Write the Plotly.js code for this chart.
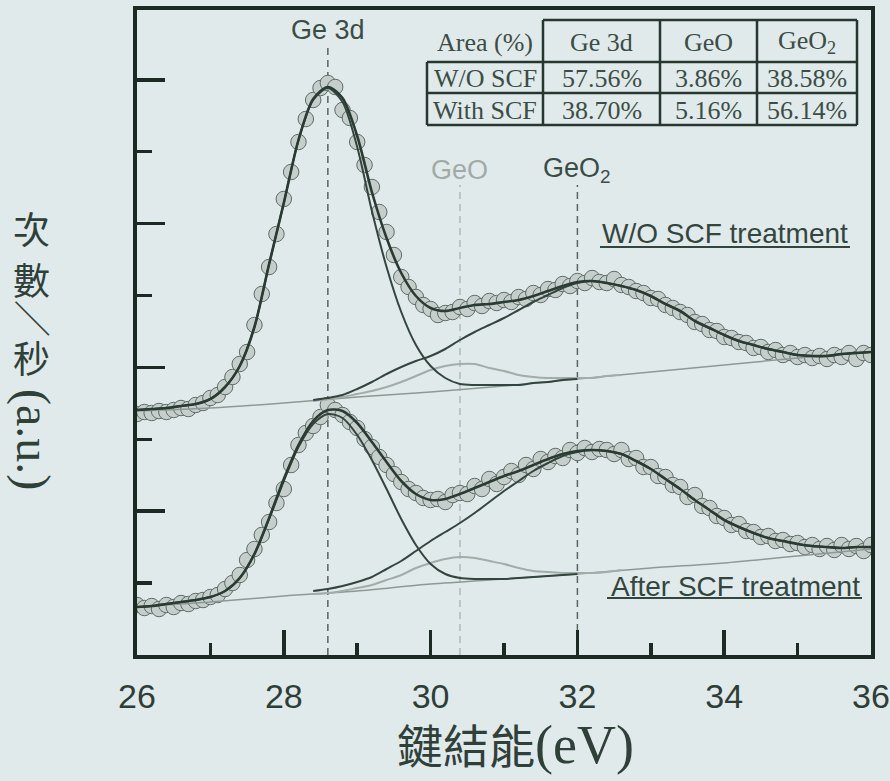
<!DOCTYPE html>
<html>
<head>
<meta charset="utf-8">
<script src="https://cdn.plot.ly/plotly-3.0.1.min.js"></script>
<style>html,body{margin:0;padding:0;background:#e0eaeb;}</style>
</head>
<body>
<div id="chart" style="width:890px;height:781px;"></div>
<script>
// ---------- DATA (binding energy in eV, intensity in arbitrary units) ----------
const dataX = [26.0,26.1,26.2,26.3,26.4,26.5,26.6,26.7,26.8,26.9,
  27.0,27.1,27.2,27.3,27.4,27.5,27.6,27.7,27.8,27.9,
  28.0,28.1,28.2,28.3,28.4,28.5,28.6,28.7,28.8,28.9,
  29.0,29.1,29.2,29.3,29.4,29.5,29.6,29.7,29.8,29.9,
  30.0,30.1,30.2,30.3,30.4,30.5,30.6,30.7,30.8,30.9,
  31.0,31.1,31.2,31.3,31.4,31.5,31.6,31.7,31.8,31.9,
  32.0,32.1,32.2,32.3,32.4,32.5,32.6,32.7,32.8,32.9,
  33.0,33.1,33.2,33.3,33.4,33.5,33.6,33.7,33.8,33.9,
  34.0,34.1,34.2,34.3,34.4,34.5,34.6,34.7,34.8,34.9,
  35.0,35.1,35.2,35.3,35.4,35.5,35.6,35.7,35.8,35.9,
  36.0];

const woData = [241,243,242,244,243,245,247,246,250,252,
  257,260,268,278,291,303,330,361,388,421,
  456,483,513,536,555,567,572,568,545,537,
  513,490,468,443,423,400,378,368,358,350,
  346,340,342,343,348,346,352,349,354,352,
  355,353,358,356,362,360,366,365,371,369,
  374,372,377,373,372,376,370,368,364,362,
  357,356,350,347,343,340,333,331,325,324,
  318,317,313,312,307,308,303,305,300,302,
  298,300,297,299,296,300,298,302,296,302,
  300];

const scfData = [50,47,49,46,50,48,52,51,54,55,
  58,60,66,72,80,95,106,120,133,152,
  166,190,210,222,229,238,250,245,240,233,
  227,216,208,198,190,181,173,166,162,157,
  155,156,153,160,162,161,169,166,176,171,
  178,184,180,190,186,196,193,199,197,205,
  202,207,203,206,205,201,205,196,197,188,
  188,179,178,170,168,158,160,149,147,139,
  137,130,131,124,123,118,119,114,115,111,
  112,108,110,106,109,105,110,106,109,104,
  110];

const fitX = [26.0,26.2,26.4,26.6,26.8,27.0,27.2,27.4,27.6,27.8,
  28.0,28.2,28.4,28.6,28.8,29.0,29.2,29.4,29.6,29.8,
  30.0,30.2,30.4,30.6,30.8,31.0,31.2,31.4,31.6,31.8,
  32.0,32.2,32.4,32.6,32.8,33.0,33.2,33.4,33.6,33.8,
  34.0,34.2,34.4,34.6,34.8,35.0,35.2,35.4,35.6,35.8,
  36.0];
const woFit = [245,246,247,249,251,256,268,289,328,391,
  452,515,556,568,557,519,463,417,382,359,
  347,344,347,350,351,353,355,359,364,369,
  373,374,372,369,365,359,351,344,334,327,
  320,314,310,306,303,300,299,299,301,302,
  303];
const scfFit = [48,49,51,53,55,58,64,77,101,137,
  176,210,234,245,244,232,213,193,174,161,
  155,156,161,167,173,179,184,190,196,201,
  204,205,204,201,194,186,176,166,155,145,
  135,128,122,117,114,111,109,108,107,108,
  108];

// background lines
const baseX = [26,27,28,29,30,31,32,33,34,35,36];
const woBase = [244,247,252,258,263,269,276,283,290,297,303];
const scfBase = [48,53,59,64,71,76,81,87,92,99,106];

// Ge 3d component
const ge3dX = [26.0,26.2,26.4,26.6,26.8,27.0,27.2,27.4,27.6,27.8,
  28.0,28.2,28.4,28.6,28.8,29.0,29.2,29.4,29.6,29.8,
  30.0,30.2,30.4,30.6,30.8,31.0,31.2,31.4,31.6,31.8,32.0];
const woGe3d = [245,246,247,249,251,256,268,289,328,391,
  452,515,555,567,553,508,444,388,343,310,
  289,277,271,270,270,270,270,272,273,275,276];
const scfGe3d = [48,49,51,53,55,58,64,77,101,136,
  174,208,231,241,237,220,195,166,136,110,
  91,81,77,76,76,76,77,78,79,80,81];

// GeO component
const geoX = [28.4,28.6,28.8,29.0,29.2,29.4,29.6,29.8,30.0,30.2,
  30.4,30.6,30.8,31.0,31.2,31.4,31.6,31.8,32.0,32.2,32.4,32.6];
const woGeO = [254,256,258,261,264,268,273,279,285,289,
  291,291,287,284,280,278,277,277,277,277,279,280];
const scfGeO = [61,62,64,67,70,75,80,87,92,96,
  98,97,94,91,87,84,83,82,82,82,83,85];

// GeO2 component
const geo2X = [28.4,28.6,28.8,29.0,29.2,29.4,29.6,29.8,
  30.0,30.2,30.4,30.6,30.8,31.0,31.2,31.4,31.6,31.8,
  32.0,32.2,32.4,32.6,32.8,33.0,33.2,33.4,33.6,33.8,
  34.0,34.2,34.4,34.6,34.8,35.0,35.2,35.4,35.6,35.8,36.0];
const woGeO2 = [255,257,260,266,273,281,288,294,
  299,306,315,323,330,337,345,353,360,367,
  372,374,372,369,365,359,351,344,334,327,
  320,314,310,306,303,300,299,299,301,302,303];
const scfGeO2 = [64,66,69,73,78,86,94,104,
  114,123,132,142,153,164,174,184,192,199,
  203,205,204,201,194,186,176,166,155,145,
  135,128,122,117,114,111,109,108,107,108,108];

// peak reference positions and labels
const peakNames = ['Ge 3d', 'GeO', 'GeO<sub>2</sub>'];
const peakPos = [28.6, 30.4, 32.0];

// area table
const tableHeader = ['Area (%)', 'Ge 3d', 'GeO', 'GeO<sub>2</sub>'];
const tableRowWO = ['W/O SCF', '57.56%', '3.86%', '38.58%'];
const tableRowSCF = ['With SCF', '38.70%', '5.16%', '56.14%'];

const xTickVals = [26, 28, 30, 32, 34, 36];

// ---------- STYLE ----------
const BG = '#e0eaeb';
const FRAME = '#1b2b24';
const DARK = '#33453e';
const LIGHT = '#a2aca9';
const BASEC = '#8e9995';

// pixel helpers for layout placement (plot area: x 137..871, y 10..655)
const PL = 137, PR = 871, PT = 10, PB = 655;
const px = v => (v - PL) / (PR - PL);
const py = v => (PB - v) / (PB - PT);

function markerTrace(x, y) {
  return {x, y, type: 'scatter', mode: 'markers', hoverinfo: 'skip',
    marker: {size: 15.5, color: '#c6cecc', line: {color: '#5e6d67', width: 1}}};
}
function lineTrace(x, y, color, width) {
  return {x, y, type: 'scatter', mode: 'lines', hoverinfo: 'skip',
    line: {color, width, shape: 'spline', smoothing: 0.8}};
}

const traces = [
  markerTrace(dataX, woData),
  markerTrace(dataX, scfData),
  lineTrace(baseX, woBase, BASEC, 1.5),
  lineTrace(baseX, scfBase, BASEC, 1.5),
  lineTrace(geoX, woGeO, LIGHT, 2),
  lineTrace(geoX, scfGeO, LIGHT, 2),
  lineTrace(ge3dX, woGe3d, DARK, 2),
  lineTrace(ge3dX, scfGe3d, DARK, 2),
  lineTrace(geo2X, woGeO2, DARK, 2),
  lineTrace(geo2X, scfGeO2, DARK, 2),
  lineTrace(fitX, woFit, '#2a3b34', 2.6),
  lineTrace(fitX, scfFit, '#2a3b34', 2.6)
];

const shapes = [];
const annotations = [];

// dashed peak markers and their labels
const dashTops = [610, 470, 470];
const labelY = [625, 485, 485];
const dashColors = ['#56655f', '#b0b9b6', '#56655f'];
const labelColors = ['#3a4d45', '#a0aaa7', '#3a4d45'];
peakPos.forEach((p, i) => {
  shapes.push({type: 'line', xref: 'x', yref: 'y', x0: p, x1: p, y0: 0, y1: dashTops[i],
    layer: 'below', line: {color: dashColors[i], width: 1.5, dash: '7px,5px'}});
  annotations.push({xref: 'x', yref: 'y', x: p, y: labelY[i], text: peakNames[i],
    showarrow: false, xanchor: 'center', yanchor: 'middle',
    font: {family: 'Liberation Sans, Arial', size: 27, color: labelColors[i]}});
});

// table
const colX = [427, 543, 660, 757, 857];
const rowY = [20, 62, 93, 125];
const TL = {color: '#25372f', width: 2.5};
shapes.push({type: 'line', xref: 'paper', yref: 'paper', x0: px(543), x1: px(857), y0: py(20), y1: py(20), line: TL});
[62, 93, 125].forEach(r => shapes.push({type: 'line', xref: 'paper', yref: 'paper',
  x0: px(427), x1: px(857), y0: py(r), y1: py(r), line: TL}));
shapes.push({type: 'line', xref: 'paper', yref: 'paper', x0: px(427), x1: px(427), y0: py(62), y1: py(125), line: TL});
[543, 660, 757, 857].forEach(c => shapes.push({type: 'line', xref: 'paper', yref: 'paper',
  x0: px(c), x1: px(c), y0: py(20), y1: py(125), line: TL}));
[tableHeader, tableRowWO, tableRowSCF].forEach((row, ri) => {
  row.forEach((t, ci) => {
    annotations.push({xref: 'paper', yref: 'paper', x: px((colX[ci] + colX[ci + 1]) / 2),
      y: py((rowY[ri] + rowY[ri + 1]) / 2 + 1), text: t, showarrow: false,
      xanchor: 'center', yanchor: 'middle',
      font: {family: 'Liberation Serif, Times New Roman', size: 26, color: '#3b4d45'}});
  });
});

// sample labels with underline
const sampleLabels = ['W/O SCF treatment', 'After SCF treatment'];
const sampleCx = [725, 735];
const sampleCy = [233, 586];
const sampleUl = [[600, 850, 247], [607, 862, 598]];
sampleLabels.forEach((t, i) => {
  annotations.push({xref: 'paper', yref: 'paper', x: px(sampleCx[i]), y: py(sampleCy[i]), text: t,
    showarrow: false, xanchor: 'center', yanchor: 'middle',
    font: {family: 'Liberation Sans, Arial', size: 28, color: '#33463e'}});
  shapes.push({type: 'line', xref: 'paper', yref: 'paper', x0: px(sampleUl[i][0]), x1: px(sampleUl[i][1]),
    y0: py(sampleUl[i][2]), y1: py(sampleUl[i][2]), line: {color: '#33463e', width: 2}});
});

// vertical y-axis title (次數/秒(a.u.)) written top to bottom
const yTitleParts = ['次', '數', '／', '秒', '(a.u.)'];
const yTitleY = [232, 283, 318, 360, 440];
const yTitleX = [31, 31, 31, 31, 33];
const yTitleRot = [0, 0, 90, 0, 90];
const yTitleSize = [37, 37, 37, 37, 48];
yTitleParts.forEach((t, i) => {
  annotations.push({xref: 'paper', yref: 'paper', x: px(yTitleX[i]), y: py(yTitleY[i]), text: t,
    showarrow: false, xanchor: 'center', yanchor: 'middle', textangle: yTitleRot[i],
    font: {family: 'Liberation Serif, Noto Sans CJK TC', size: yTitleSize[i], color: '#2f4038'}});
});

const layout = {
  width: 890, height: 781,
  margin: {l: PL, r: 890 - PR, t: PT, b: 781 - PB},
  paper_bgcolor: BG, plot_bgcolor: BG,
  showlegend: false,
  xaxis: {
    range: [26, 36], tickvals: xTickVals, ticktext: xTickVals.map(String),
    ticks: 'inside', ticklen: 25, tickwidth: 3.5, tickcolor: FRAME,
    minor: {dtick: 1, tick0: 26, ticks: 'inside', ticklen: 12, tickwidth: 3.5, tickcolor: FRAME, showgrid: false},
    showline: true, linewidth: 4, linecolor: FRAME, mirror: true,
    showgrid: false, zeroline: false, ticklabelstandoff: 8,
    tickfont: {family: 'Liberation Sans, Arial', size: 34, color: '#2e3e37'},
    title: {text: '<span style="font-size:46px">\u2002鍵結能</span>(eV)', standoff: 2,
      font: {family: 'Liberation Serif, Noto Sans CJK TC', size: 54, color: '#2f4038'}}
  },
  yaxis: {
    range: [0, 645], tick0: 0, dtick: 143.8,
    ticks: 'inside', ticklen: 28, tickwidth: 3.5, tickcolor: FRAME,
    minor: {dtick: 71.9, tick0: 0, ticks: 'inside', ticklen: 15, tickwidth: 3.5, tickcolor: FRAME, showgrid: false},
    showticklabels: false,
    showline: true, linewidth: 4, linecolor: FRAME, mirror: true,
    showgrid: false, zeroline: false
  },
  shapes, annotations
};

Plotly.newPlot('chart', traces, layout, {staticPlot: true, displayModeBar: false});
</script>
</body>
</html>
